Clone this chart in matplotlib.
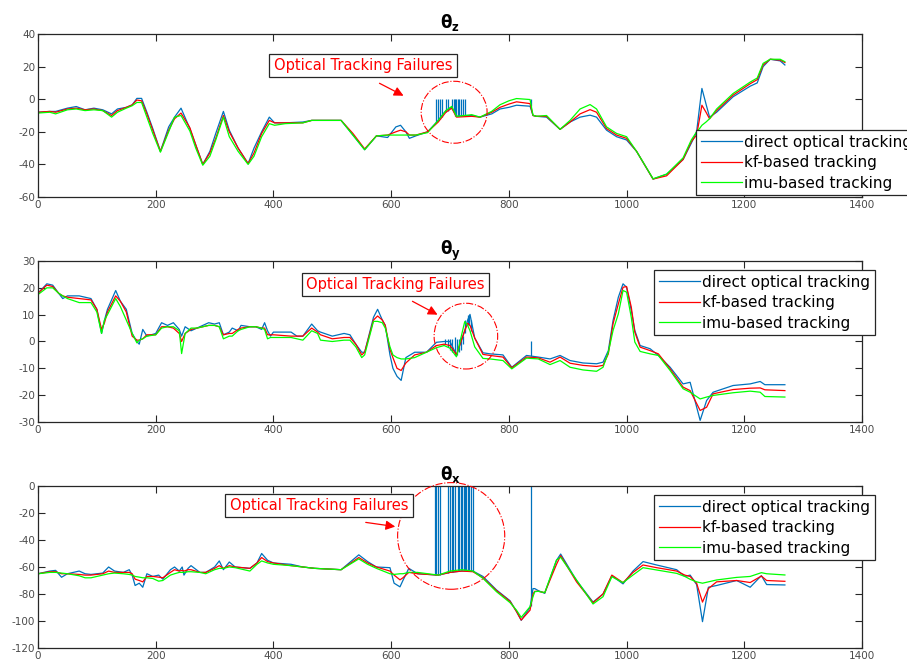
import matplotlib
matplotlib.use("Agg")
import matplotlib.pyplot as plt
from matplotlib.patches import Ellipse, FancyArrowPatch

plt.rcParams['font.family'] = ['DejaVu Sans']
plt.rcParams['axes.unicode_minus'] = False

# ---------------- data: theta_z ----------------
tz = [0, 20, 30, 50, 65, 80, 95, 110, 125, 135, 150, 160, 168, 176, 185, 195, 208, 222, 232, 243,
      258, 268, 280, 292, 302, 315, 325, 340, 357, 367, 380, 393, 402, 420, 450, 465, 515, 535, 555,
      575, 594, 608, 616, 625, 631, 642, 662, 680, 693, 703, 711, 737, 751, 771, 785, 800, 813, 836,
      841, 847, 864, 887, 904, 921, 938, 949, 966, 983, 1000, 1017, 1045, 1068, 1096, 1110, 1119,
      1124, 1128, 1135, 1141, 1153, 1181, 1210, 1222, 1232, 1244, 1261, 1269]
z_direct = [-8, -7.5, -7.5, -5.5, -4.5, -6.5, -5.5, -6.5, -9, -6, -5, -3.5, 0.5, 0.5, -8, -18, -32, -17, -11, -5.5,
            -18, -28, -40, -32, -21, -7.5, -19, -30, -39.5, -30, -20, -11, -14.5, -14.5, -14, -13, -13, -22, -31,
            -22.5, -23.5, -17, -16, -20, -24, -22.5, -20, -13, -7, -5, -10.5, -10, -11, -9, -6, -5, -3.7, -4.3,
            -10, -10.5, -11, -18.5, -14, -11, -9.8, -11, -19, -23, -25, -32, -49, -46, -37, -27, -20,
            -5, 6.6, -3, -11, -8, 1.5, 8, 10, 20, 24.5, 23.5, 21]
z_kf = [-8, -7.5, -8, -6, -5.5, -6.5, -6, -7, -10, -7, -5, -3.5, -0.5, -1, -9, -19, -32, -19, -12, -8.5,
        -17.5, -28, -40, -33, -24, -10, -20, -30, -39.5, -33, -21, -13, -14.5, -14.5, -14.5, -13, -13, -21, -30.5,
        -22.5, -22, -20, -19, -20, -22, -22, -20, -14, -8, -5.5, -11, -10.5, -11, -8, -5, -3, -1.6, -2.7,
        -10, -10.5, -10.5, -18.5, -14, -9, -6.4, -8, -18, -22, -24, -32, -49, -47, -37, -26, -22,
        -12, -3.7, -8, -12, -7, 2.5, 9.5, 12, 21, 24.5, 24, 22.5]
z_imu = [-8.5, -8, -9, -6.5, -6, -7, -6.5, -7, -11, -8, -5.5, -4, -2, -2, -11, -21, -32.5, -20, -11, -10,
         -19.5, -30, -40.5, -35, -25, -11, -23, -32, -40, -35, -23, -15, -16, -15, -14.5, -13, -13, -22, -31,
         -22.5, -22, -22, -22, -22, -22, -22, -20.5, -13, -7, -4.4, -10.5, -9.5, -11, -7.4, -3.4, -1, 0.4, -0.2,
         -9.8, -10.5, -10, -18.5, -13, -6, -3.3, -6, -17, -21, -23, -32, -48.8, -46, -36, -25, -20,
         -18, -16, -14, -12, -6, 3.5, 10.5, 13, 22, 24.5, 24.5, 23]
z_fail_x = [677, 680, 683, 686, 693, 697, 703, 706, 709, 711, 714, 716, 719, 722, 726, 838]
z_fail_base = [-14, -13, -12, -11, -8, -7, -6, -8, -10, -10, -10, -10, -10, -10, -10, -4]
z_fail_top = [0, 0, 0, 0, 0, 0, 0, 0, 0, 0, 0, 0, 0, 0, 0, 0]

# ---------------- data: theta_y ----------------
ty = [0, 15, 25, 35, 42, 50, 70, 90, 100, 108, 113, 118, 132, 140, 150, 160, 168, 172, 178, 185, 200, 210,
      220, 230, 240, 244, 250, 260, 270, 280, 290, 300, 308, 315, 325, 330, 340, 345, 360, 370, 380, 385,
      390, 395, 400, 430, 440, 450, 465, 475, 480, 500, 520, 530, 540, 550, 555, 570, 577, 585, 590, 598,
      603, 610, 617, 625, 640, 660, 677, 690, 700, 711, 725, 730, 734, 742, 756, 768, 790, 805, 830, 850,
      870, 887, 904, 926, 949, 960, 969, 977, 986, 994, 1000, 1008, 1014, 1023, 1040, 1054, 1074, 1096,
      1108, 1125, 1136, 1147, 1181, 1210, 1227, 1235, 1269]
y_direct = [18, 21.5, 21, 18, 16, 17, 17, 16, 12, 3, 8, 12, 19, 15, 12, 3, 0, -1, 4.5, 2, 3, 7,
            6, 7, 4.5, 2, 5.5, 4, 5, 6, 7, 6.5, 7, 2.5, 3.5, 5, 4, 6, 5.5, 5.5, 4.5, 7,
            4, 2, 3.5, 3.5, 2, 2, 6.5, 4, 3.5, 2, 3, 2.5, -1, -4, -4, 9, 12, 8, 6, -5,
            -10, -13, -14.5, -6, -4, -4, -0.3, 0, 0, -5, 4, 8, 10.1, 1.3, -4.2, -4.6, -5, -9.6, -5.2, -5.8,
            -6.5, -5.2, -7.1, -8, -8.3, -7.7, -3.4, 7.8, 16.5, 21.5, 20.2, 11.6, 4.1, -1.5, -2.7, -5.2, -9.6, -15.8,
            -15.2, -29.4, -22, -18.9, -16.4, -15.8, -14.9, -16.1, -16.1]
y_kf = [18, 21, 20.5, 18, 17, 16.5, 16, 15.5, 12, 4.5, 7, 11, 17, 15, 11, 2, 0.5, 0.5, 1, 2.5, 2.5, 5.5,
        5.5, 5, 3, 0, 3, 4.5, 5, 5.5, 6, 6, 5.5, 2.5, 3, 3, 4.5, 5, 5.5, 5.5, 5, 5,
        2.5, 2.5, 2.5, 2, 2, 2, 5, 3.5, 2.5, 1, 1.5, 1.5, -1, -5, -4, 8, 9.5, 8, 6, -3,
        -6, -10, -10.8, -8, -5, -4, -1.5, -1, -1.5, -4.9, 4, 6.8, 6, 1.3, -4.8, -5.2, -5.8, -9.8, -5.8, -6.1,
        -7.7, -5.8, -8.1, -8.9, -9.3, -8.9, -4.6, 6.6, 14, 20.2, 20.5, 12.8, 3.5, -2.1, -3.4, -4.6, -10.2, -17,
        -18.3, -25.7, -24.5, -19.5, -17.9, -17.4, -17.3, -18, -18.3]
y_imu = [17.5, 20, 20, 18, 17, 16, 14.5, 14.5, 11, 3, 8, 10, 16, 13, 8, 3, -0.5, 0.5, 1, 2, 2.5, 5,
         5.5, 5.5, 4, -4.5, 3, 5, 5, 5.5, 6, 6, 5.5, 1, 2, 2, 4, 4.5, 5.5, 5.5, 5, 4.5,
         1, 1.5, 1.5, 1.5, 1, 0.5, 4, 3, 0.5, 0, 0.5, 0.5, -2, -6, -5, 7.5, 7.5, 7, 5, -2,
         -5, -6, -6.5, -6.5, -6, -4, -2.3, -1.5, -2.5, -5.7, 7.4, 6, 4, -2, -6.3, -6.5, -7.1, -10.2, -6.2, -6.5,
         -8.6, -7.1, -9.6, -10.6, -11.1, -9.6, -4, 4.1, 10.3, 19, 18.4, 9, -0.2, -3.7, -4.6, -5.2, -10.8, -17.6,
         -18.9, -21.4, -20.7, -20.1, -19.1, -18.5, -18.9, -20.5, -20.7]
y_fail_x = [692, 696, 700, 704, 708, 712, 716, 719, 722, 726, 730, 733, 736, 838]
y_fail_base = [-1, -2, -3, -4, -5, -5, -4, -3, -1, 3, 6, 6, 4, -5.5]
y_fail_top = [1, 1, 1, 1, 1.5, 1, 1, 1.5, 2, 8, 10, 9.5, 8, 0]

# ---------------- data: theta_x ----------------
tx = [0, 20, 30, 40, 50, 70, 80, 90, 110, 120, 130, 145, 155, 160, 165, 172, 178, 185, 195, 205, 212,
      225, 232, 240, 245, 248, 255, 260, 275, 285, 300, 308, 315, 325, 335, 360, 372, 380, 390, 400,
      430, 450, 470, 515, 545, 560, 575, 598, 605, 615, 620, 630, 645, 680, 700, 720, 739, 756, 779,
      802, 813, 821, 836, 841, 844, 850, 861, 881, 888, 915, 943, 960, 975, 994, 1011, 1028, 1051,
      1085, 1099, 1108, 1119, 1129, 1139, 1153, 1187, 1210, 1229, 1238, 1269]
x_direct = [-65, -63, -62.5, -67.6, -65, -63, -65, -65.5, -64.5, -60, -63, -64, -62, -66, -73.7, -72, -75, -65, -67, -66, -69,
            -62, -60, -63, -60, -66, -61, -59, -64, -64, -60, -55.5, -62, -56.3, -60, -61, -57, -50, -55, -57,
            -58, -60, -61, -62, -51, -56, -60, -60.5, -72, -74.7, -70, -61, -65, -66, -64, -63, -63, -67, -77,
            -85, -93, -99.5, -90, -76, -76, -77.5, -79.5, -55, -50.4, -70, -86, -80, -66.5, -72.5, -63, -56, -58.5,
            -62, -67, -66, -73, -100.5, -75, -73.7, -70, -75, -66.4, -73, -73.3]
x_kf = [-65, -63.5, -63.5, -65, -65, -65.5, -66, -66, -65, -63, -64, -64, -64, -65, -69, -70, -71, -67, -67, -67.5, -68,
        -64, -62, -63, -62.5, -63, -62, -62, -64, -64, -61, -59, -61, -59, -60, -61, -57, -53, -56, -57,
        -59, -60, -61, -62, -53, -57, -60, -63, -66, -69.5, -68, -64, -65, -66, -64, -63, -63.5, -68, -77.5,
        -85.5, -93, -99.3, -92, -80, -78, -78, -79, -58, -51.6, -71, -86.5, -80, -66, -71.6, -64, -58.5, -60.5,
        -63, -66, -67, -72, -86, -76, -71, -70, -71.5, -66.7, -70, -70.6]
x_imu = [-65, -64, -64, -64.5, -65, -66.5, -68, -68, -66, -65, -64.5, -65, -65.5, -66, -67, -67.5, -68, -68, -68.5, -70.5, -70,
         -66, -65, -64, -64, -64, -63.5, -63.5, -64, -65, -62, -61, -61, -60, -60.5, -63, -58, -55.5, -57, -58,
         -59, -60, -61, -62, -54, -58, -61, -65, -65.5, -65, -65, -64, -64, -66, -63, -62, -63, -68.4, -78.3,
         -86.4, -92, -97.3, -89.4, -82, -78.3, -78, -79, -54.8, -52.8, -69.6, -87.4, -82, -67.2, -71.6, -65.9, -60.5, -62.2,
         -64.7, -67, -69.1, -71, -72, -71, -69.6, -67.7, -67, -64.2, -65, -65.9]
x_fail_x = [675, 677, 680, 683, 696, 700, 703, 705, 708, 713, 715, 718, 720, 723, 725, 728, 731, 733, 736, 739, 838]
x_fail_base = [-66, -66, -66, -66, -64.5, -64, -63.5, -63.5, -63, -63, -63, -62.5, -62.5, -62.5, -62.5, -62.5, -63,
               -63, -63, -63, -89]
x_fail_top = [0] * 21

labels = ['direct optical tracking', 'kf-based tracking', 'imu-based tracking']
note = 'Optical Tracking Failures'

C_BLUE = '#0072BD'
C_RED = '#FF0000'
C_GREEN = '#00FF00'
AX_COL = '#262626'
TICK_COL = '#4a4a4a'

W, H = 907, 663
fig = plt.figure(figsize=(W / 100, H / 100), dpi=100)


def fx(px):
    return px / W


def fy(py):
    return 1 - py / H


def make_axes(top_px, bot_px):
    ax = fig.add_axes([fx(38), fy(bot_px), fx(862) - fx(38), fy(top_px) - fy(bot_px)])
    ax.tick_params(direction='in', top=True, right=True, length=5, width=0.8,
                   colors=AX_COL, labelcolor=TICK_COL, labelsize=7.5, pad=2)
    for s in ax.spines.values():
        s.set_color(AX_COL)
        s.set_linewidth(0.9)
    ax.set_xlim(0, 1400)
    ax.set_xticks(range(0, 1401, 200))
    return ax


panels = [
    dict(top=34, bot=197, t=tz, d=z_direct, k=z_kf, m=z_imu, fxs=z_fail_x, fb=z_fail_base, ft=z_fail_top,
         ylim=(-60, 40), yt=range(-60, 41, 20), title=r'$\mathbf{\theta_z}$',
         leg=(696, 130), box=(363, 65.5), arr=((377, 82), (406, 97)),
         ell=(707, -8, 112, 38)),
    dict(top=261, bot=422, t=ty, d=y_direct, k=y_kf, m=y_imu, fxs=y_fail_x, fb=y_fail_base, ft=y_fail_top,
         ylim=(-30, 30), yt=range(-30, 31, 10), title=r'$\mathbf{\theta_y}$',
         leg=(654, 270), box=(395.5, 284.5), arr=((410, 300), (440, 316)),
         ell=(727, 2, 108, 24.5)),
    dict(top=486, bot=648, t=tx, d=x_direct, k=x_kf, m=x_imu, fxs=x_fail_x, fb=x_fail_base, ft=x_fail_top,
         ylim=(-120, 0), yt=range(-120, 1, 20), title=r'$\mathbf{\theta_x}$',
         leg=(654, 495), box=(319, 505.5), arr=((363, 522), (398, 527)),
         ell=(702, -37, 182, 79)),
]

for p in panels:
    ax = make_axes(p['top'], p['bot'])
    ax.set_ylim(*p['ylim'])
    ax.set_yticks(list(p['yt']))
    l1, = ax.plot(p['t'], p['d'], color=C_BLUE, lw=0.9)
    ax.vlines(p['fxs'], p['fb'], p['ft'], color=C_BLUE, lw=0.9)
    l2, = ax.plot(p['t'], p['k'], color=C_RED, lw=0.9)
    l3, = ax.plot(p['t'], p['m'], color=C_GREEN, lw=0.9)
    ax.set_title(p['title'], fontsize=12, fontweight='bold', pad=4)
    cx, cy, ew, eh = p['ell']
    ax.add_patch(Ellipse((cx, cy), ew, eh, fill=False, edgecolor=C_RED, lw=0.8,
                         linestyle='-.', clip_on=False, zorder=5))
    leg = fig.legend([l1, l2, l3], labels, loc='upper left',
                     bbox_to_anchor=(fx(p['leg'][0]), fy(p['leg'][1])),
                     bbox_transform=fig.transFigure, fontsize=11, frameon=True,
                     fancybox=False, edgecolor=AX_COL, framealpha=1,
                     handlelength=2.7, handletextpad=0.15, labelspacing=0.36,
                     borderpad=0.3, borderaxespad=0)
    leg.get_frame().set_linewidth(0.9)
    bx, by = p['box']
    fig.text(fx(bx), fy(by), note, color=C_RED, fontsize=10.5, ha='center', va='center',
             bbox=dict(boxstyle='square,pad=0.3', facecolor='white', edgecolor=AX_COL, lw=0.9))
    (ax0, ay0), (ax1, ay1) = p['arr']
    fig.add_artist(FancyArrowPatch((fx(ax0), fy(ay0)), (fx(ax1), fy(ay1)),
                                   transform=fig.transFigure, arrowstyle='-|>',
                                   mutation_scale=14, color=C_RED, lw=0.9))

fig.savefig('out.png', dpi=100)
